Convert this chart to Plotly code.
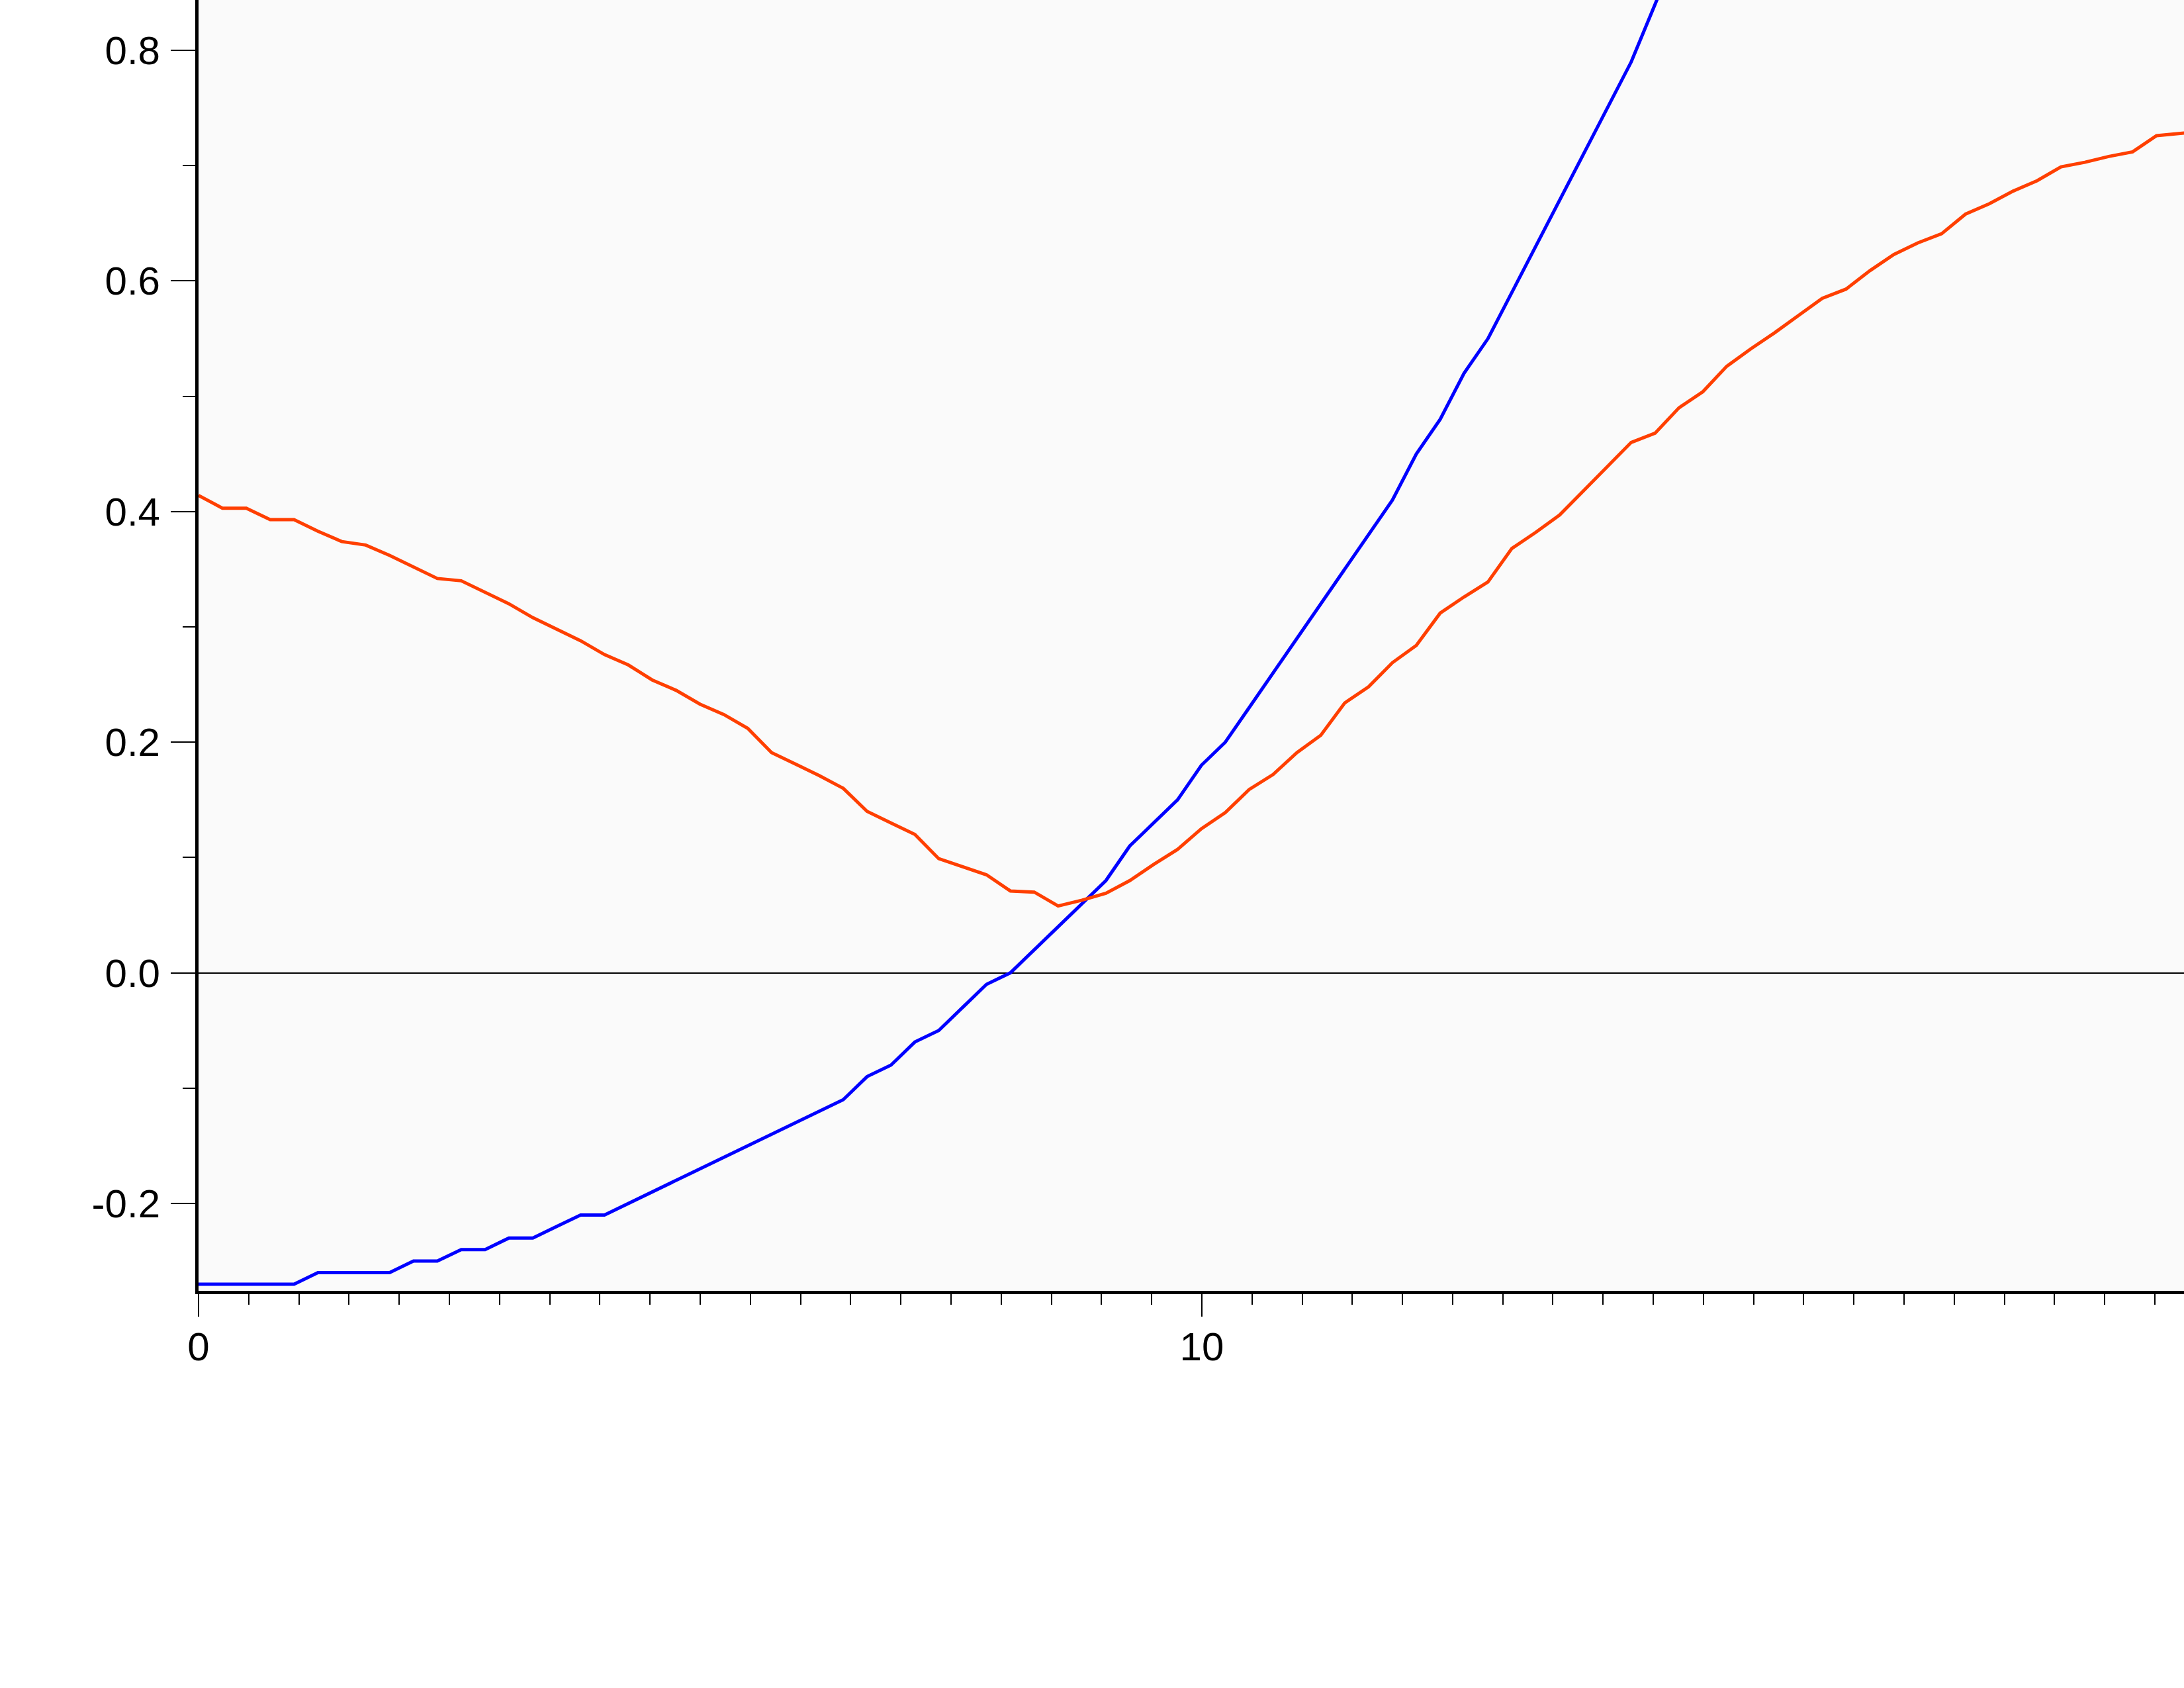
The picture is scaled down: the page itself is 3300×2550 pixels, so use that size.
import plotly.graph_objects as go

# ---- data ----
x_values = [0, 0.238, 0.476, 0.714, 0.952, 1.19, 1.428, 1.666, 1.904, 2.142,
            2.38, 2.618, 2.856, 3.094, 3.332, 3.57, 3.808, 4.046, 4.284, 4.522,
            4.76, 4.998, 5.236, 5.474, 5.712, 5.95, 6.188, 6.426, 6.664, 6.902,
            7.14, 7.378, 7.616, 7.854, 8.092, 8.33, 8.568, 8.806, 9.044, 9.282,
            9.52, 9.758, 9.996, 10.234, 10.472, 10.71, 10.948, 11.186, 11.424, 11.662,
            11.9, 12.138, 12.376, 12.614, 12.852, 13.09, 13.328, 13.566, 13.804, 14.042,
            14.28, 14.518, 14.756, 14.994, 15.232, 15.47, 15.708, 15.946, 16.184, 16.422,
            16.66, 16.898, 17.136, 17.374, 17.612, 17.85, 18.088, 18.326, 18.564, 18.802,
            19.04, 19.278, 19.516, 19.754, 19.992]

red_values = [0.414, 0.403, 0.403, 0.393, 0.393, 0.383, 0.374, 0.371, 0.362, 0.352,
              0.342, 0.340, 0.330, 0.320, 0.308, 0.298, 0.288, 0.276, 0.267, 0.254,
              0.245, 0.233, 0.224, 0.212, 0.191, 0.181, 0.171, 0.160, 0.140, 0.130,
              0.120, 0.099, 0.092, 0.085, 0.071, 0.070, 0.058, 0.063, 0.069, 0.080,
              0.094, 0.107, 0.125, 0.139, 0.159, 0.172, 0.191, 0.206, 0.234, 0.248,
              0.269, 0.284, 0.312, 0.326, 0.339, 0.368, 0.382, 0.397, 0.418, 0.439,
              0.460, 0.468, 0.490, 0.504, 0.526, 0.541, 0.555, 0.570, 0.585, 0.593,
              0.609, 0.623, 0.633, 0.641, 0.658, 0.667, 0.678, 0.687, 0.699, 0.703,
              0.708, 0.712, 0.726, 0.728, 0.730]

blue_values = [-0.27, -0.27, -0.27, -0.27, -0.27, -0.26, -0.26, -0.26, -0.26, -0.25,
               -0.25, -0.24, -0.24, -0.23, -0.23, -0.22, -0.21, -0.21, -0.20, -0.19,
               -0.18, -0.17, -0.16, -0.15, -0.14, -0.13, -0.12, -0.11, -0.09, -0.08,
               -0.06, -0.05, -0.03, -0.01, 0.00, 0.02, 0.04, 0.06, 0.08, 0.11,
               0.13, 0.15, 0.18, 0.20, 0.23, 0.26, 0.29, 0.32, 0.35, 0.38,
               0.41, 0.45, 0.48, 0.52, 0.55, 0.59, 0.63, 0.67, 0.71, 0.75,
               0.79, 0.84, 0.89]

x_tick_vals = [0, 10]
x_tick_text = ["0", "10"]
y_tick_vals = [-0.2, 0.0, 0.2, 0.4, 0.6, 0.8]
y_tick_text = ["-0.2", "0.0", "0.2", "0.4", "0.6", "0.8"]

FONT = "Liberation Sans, Arial, Helvetica, sans-serif"

fig = go.Figure()
fig.add_trace(go.Scatter(
    x=x_values[:len(blue_values)], y=blue_values, mode="lines",
    line=dict(color="#0000FF", width=5), showlegend=False, hoverinfo="skip"))
fig.add_trace(go.Scatter(
    x=x_values, y=red_values, mode="lines",
    line=dict(color="#FF3F00", width=5), showlegend=False, hoverinfo="skip"))

fig.update_layout(
    width=3300, height=2550,
    margin=dict(l=300, r=0, t=0, b=600, pad=0),
    paper_bgcolor="white",
    plot_bgcolor="#FAFAFA",
    font=dict(family=FONT, size=60, color="black"),
    showlegend=False,
)

fig.update_xaxes(
    range=[0, 19.79],
    tickmode="array", tickvals=x_tick_vals, ticktext=x_tick_text,
    ticks="outside", ticklen=34, tickwidth=2, tickcolor="black",
    ticklabelstandoff=-6,
    showline=True, linewidth=5, linecolor="black",
    showgrid=False, zeroline=False,
    minor=dict(tickmode="linear", tick0=0, dtick=0.5, ticks="outside",
               ticklen=16, tickwidth=2, tickcolor="black", showgrid=False),
    tickfont=dict(family=FONT, size=60, color="black"),
)
fig.update_yaxes(
    range=[-0.2758, 0.8437],
    tickmode="array", tickvals=y_tick_vals, ticktext=y_tick_text,
    ticks="outside", ticklen=37, tickwidth=2, tickcolor="black",
    ticklabelstandoff=4,
    showline=True, linewidth=5, linecolor="black",
    showgrid=False,
    zeroline=True, zerolinecolor="black", zerolinewidth=2,
    minor=dict(tickmode="linear", tick0=0, dtick=0.1, ticks="outside",
               ticklen=19, tickwidth=2, tickcolor="black", showgrid=False),
    tickfont=dict(family=FONT, size=60, color="black"),
)

fig.write_html("out.html", config={"displayModeBar": False},
               post_script="document.body.style.margin='0';")
